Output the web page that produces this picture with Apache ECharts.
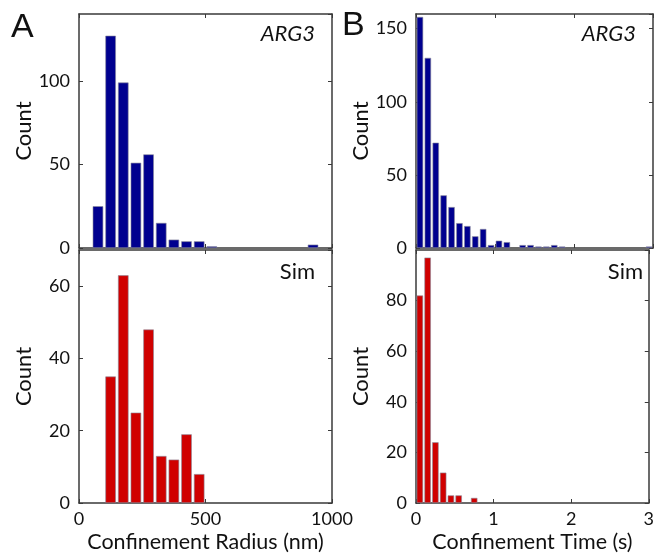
<!DOCTYPE html>
<html>
<head>
<meta charset="utf-8">
<script src="https://cdn.jsdelivr.net/npm/echarts@6/dist/echarts.min.js"></script>
<style>
  html, body { margin: 0; background: #fff; }
  #chart { width: 657px; height: 554px; }
</style>
</head>
<body>
<div id="chart"></div>
<script>
// ===== data =====
// confinement radius bins (nm), bin width 50
const radiusArgBins = [75, 125, 175, 225, 275, 325, 375, 425, 475, 525, 575, 625, 675, 725, 775, 825, 875, 925];
const radiusArgCounts = [25, 127, 99, 51, 56, 15, 5, 4, 4, 1, 0, 0, 0, 0, 0, 0, 0, 2];
const radiusSimBins = [125, 175, 225, 275, 325, 375, 425, 475];
const radiusSimCounts = [35, 63, 25, 48, 13, 12, 19, 8];

// confinement time bins (s), bin width 0.1
const timeArgBins = [0.05, 0.15, 0.25, 0.35, 0.45, 0.55, 0.65, 0.75, 0.85, 0.95,
  1.05, 1.15, 1.25, 1.35, 1.45, 1.55, 1.65, 1.75, 1.85, 1.95,
  2.05, 2.15, 2.25, 2.35, 2.45, 2.55, 2.65, 2.75, 2.85, 2.95];
const timeArgCounts = [158, 130, 72, 36, 28, 17, 15, 8, 13, 2,
  5, 4, 0, 2, 2, 1, 1, 2, 1, 0,
  0, 0, 0, 0, 0, 0, 0, 0, 0, 1];
const timeSimBins = [0.05, 0.15, 0.25, 0.35, 0.45, 0.55, 0.65, 0.75];
const timeSimCounts = [82, 97, 24, 12, 3, 3, 0, 2];

const radiusTicks = [0, 1000, 500];   // min, max, interval
const timeTicks = [0, 3, 1];

const FONT = 'Lato';
const AXIS = '#3a3a3a';
const BLUE = '#00008f';
const RED = '#d00000';

const chart = echarts.init(document.getElementById('chart'), null, { renderer: 'canvas' });

// panel layout
const panels = [
  { left: 79, top: 14, width: 253, height: 234, x: radiusTicks, yMax: 140, yInt: 50, xLabels: false },
  { left: 79, top: 250, width: 253, height: 253, x: radiusTicks, yMax: 70, yInt: 20, xLabels: true, xName: 'Confinement Radius (nm)' },
  { left: 416, top: 14, width: 237, height: 234, x: timeTicks, yMax: 160, yInt: 50, xLabels: false },
  { left: 416, top: 250, width: 237, height: 253, x: timeTicks, yMax: 100, yInt: 20, xLabels: true, xName: 'Confinement Time (s)' }
];

const axisLine = { show: true, onZero: false, lineStyle: { color: AXIS, width: 1.5 } };
const axisTick = { show: true, inside: true, length: 4, lineStyle: { color: AXIS, width: 1 } };
const labelStyle = { color: '#111', fontSize: 18, fontFamily: FONT };
const plain = function (v) { return String(v); };

const grids = [], xAxes = [], yAxes = [];
panels.forEach(function (p, i) {
  grids.push({ left: p.left, top: p.top, width: p.width, height: p.height, containLabel: false });
  const xb = {
    gridIndex: i, type: 'value', min: p.x[0], max: p.x[1], interval: p.x[2],
    axisLine: axisLine, axisTick: axisTick, splitLine: { show: false }
  };
  xAxes.push(Object.assign({}, xb, {
    position: 'bottom',
    axisLabel: Object.assign({ show: p.xLabels, margin: 7, formatter: plain }, labelStyle),
    name: p.xName || '', nameLocation: 'middle', nameGap: 28,
    nameTextStyle: { color: '#111', fontSize: 21.5, fontFamily: FONT }
  }));
  xAxes.push(Object.assign({}, xb, { position: 'top', axisLabel: { show: false } }));

  const yb = {
    gridIndex: i, type: 'value', min: 0, max: p.yMax, interval: p.yInt,
    axisLine: axisLine, axisTick: axisTick, splitLine: { show: false }
  };
  yAxes.push(Object.assign({}, yb, {
    position: 'left',
    axisLabel: Object.assign({ margin: 9, showMaxLabel: false, formatter: plain }, labelStyle),
    name: 'Count', nameLocation: 'middle', nameGap: 44,
    nameTextStyle: { color: '#111', fontSize: 22, fontFamily: FONT }
  }));
  yAxes.push(Object.assign({}, yb, { position: 'right', axisLabel: { show: false } }));
});

// empty bins draw nothing, so leave them out
function pairs(bins, counts) {
  return bins.map(function (b, i) { return [b, counts[i]]; })
    .filter(function (d) { return d[1] > 0; });
}

function barSeries(i, data, color, width) {
  return {
    type: 'bar',
    xAxisIndex: i * 2,
    yAxisIndex: i * 2,
    data: data,
    barWidth: width,
    itemStyle: { color: color, borderColor: '#8a8a9a', borderWidth: 0.6 },
    silent: true
  };
}

function label(text, x, y, size, opts) {
  return {
    type: 'text', x: x, y: y, silent: true,
    style: Object.assign({
      text: text, fontSize: size, fontFamily: FONT, fill: '#111',
      align: 'left', verticalAlign: 'middle'
    }, opts || {})
  };
}

chart.setOption({
  backgroundColor: '#fff',
  animation: false,
  grid: grids,
  xAxis: xAxes,
  yAxis: yAxes,
  series: [
    barSeries(0, pairs(radiusArgBins, radiusArgCounts), BLUE, 10.5),
    barSeries(1, pairs(radiusSimBins, radiusSimCounts), RED, 10.5),
    barSeries(2, pairs(timeArgBins, timeArgCounts), BLUE, 6.4),
    barSeries(3, pairs(timeSimBins, timeSimCounts), RED, 6.4)
  ],
  graphic: [
    label('A', 11, 28, 34, { fontFamily: 'Liberation Sans' }),
    label('B', 342, 26, 34, { fontFamily: 'Liberation Sans' }),
    label('ARG3', 315, 34, 22, { align: 'right', fontStyle: 'italic' }),
    label('Sim', 315, 272, 22, { align: 'right' }),
    label('ARG3', 636, 34, 22, { align: 'right', fontStyle: 'italic' }),
    label('Sim', 643, 272, 22, { align: 'right' })
  ]
});
</script>
</body>
</html>
